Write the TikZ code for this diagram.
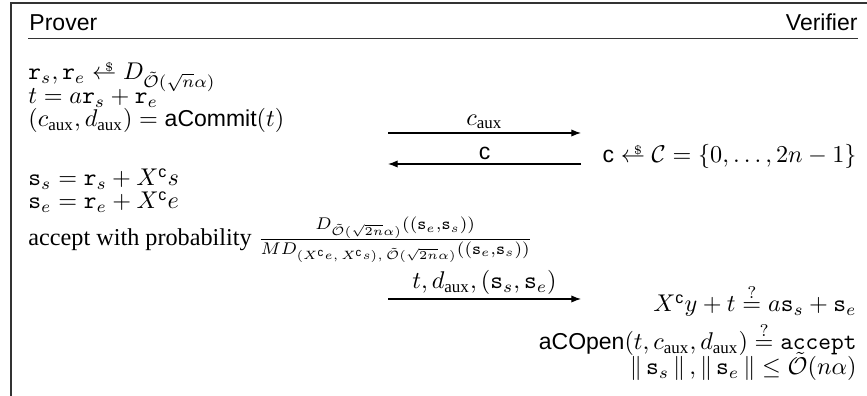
\documentclass[tikz,border=0pt]{standalone}
\usepackage{amsmath}
\usepackage[no-math]{fontspec}
\setmainfont{Liberation Serif}
\newfontfamily\hlv[Scale=0.95]{Liberation Sans}
\usetikzlibrary{arrows.meta}
\newcommand{\sfc}{\text{\hlv c}}
\newcommand{\auxs}{\text{\rmfamily aux}}
\newcommand{\Ot}{\tilde{\mathcal{O}}}
\newcommand{\tr}{\mathtt{r}}
\newcommand{\tss}{\mathtt{s}}
\newcommand{\getsr}{\mathrel{\ooalign{$\leftarrow$\cr\hfil\raisebox{3.4pt}{$\scriptscriptstyle\$$}\kern1.2pt\cr}}}
\tikzset{
  lft/.style={anchor=base west, inner sep=0pt},
  rgt/.style={anchor=base east, inner sep=0pt},
  hdr/.style={inner sep=0pt, font=\hlv},
  msg/.style={-{Latex[length=4pt,width=3pt]}, line width=0.45pt},
  lbl/.style={above, inner sep=1.5pt},
  frameline/.style={line width=0.5pt, draw=black!80}
}
\begin{document}
\begin{tikzpicture}[x=0.4132pt, y=-0.4132pt]
\useasboundingbox (0,0) rectangle (867,396);
% frame
\draw[frameline] (867,3) -- (11,3) -- (11,396);
\draw[frameline] (28,38.5) -- (858,38.5);
% header
\node[hdr, anchor=base west] (prover) at (29,31) {Prover};
\node[hdr, anchor=base east] (verifier) at (858,31) {Verifier};
% prover side
\node[lft] (l1) at (28,80) {$\tr_s, \tr_e \getsr D_{\Ot(\sqrt{n}\alpha)}$};
\node[lft] (l2) at (28,104) {$t = a\tr_s + \tr_e$};
\node[lft] (l3) at (28,127) {$(c_{\auxs}, d_{\auxs}) = \text{\hlv aCommit}(t)$};
\node[lft] (l4) at (28,186) {$\tss_s = \tr_s + X^{\sfc} s$};
\node[lft] (l5) at (28,209) {$\tss_e = \tr_e + X^{\sfc} e$};
\node[lft] (l6) at (28,246) {accept with probability $\frac{D_{\Ot(\sqrt{2n}\alpha)}((\tss_e,\tss_s))}{M D_{(X^{\sfc}e,\, X^{\sfc}s),\,\Ot(\sqrt{2n}\alpha)}((\tss_e,\tss_s))}$};
% verifier side
\node[rgt] (v1) at (857,163) {$\text{\hlv c} \getsr \mathcal{C} = \{0,\ldots,2n-1\}$};
\node[rgt] (v2) at (857,312) {$X^{\sfc} y + t \stackrel{?}{=} a\tss_s + \tss_e$};
\node[rgt] (v3) at (857,350) {$\text{\hlv aCOpen}(t, c_{\auxs}, d_{\auxs}) \stackrel{?}{=} \mathtt{accept}$};
\node[rgt] (v4) at (857,375) {$\left\|\,\tss_s\,\right\|, \left\|\,\tss_e\,\right\| \leq \Ot(n\alpha)$};
% messages
\coordinate (m1a) at (388,133); \coordinate (m1b) at (581,133);
\coordinate (m2a) at (581,164); \coordinate (m2b) at (388,164);
\coordinate (m3a) at (388,299); \coordinate (m3b) at (581,299);
\draw[msg] (m1a) -- node[lbl] (m1l) {$c_{\auxs}$} (m1b);
\draw[msg] (m2a) -- node[lbl] (m2l) {$\text{\hlv c}$} (m2b);
\draw[msg] (m3a) -- node[lbl] (m3l) {$t, d_{\auxs}, (\tss_s, \tss_e)$} (m3b);
\end{tikzpicture}
\end{document}
